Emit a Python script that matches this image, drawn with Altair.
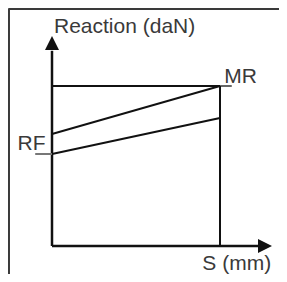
import altair as alt
import pandas as pd

# Schematic values (S in mm-units, Reaction in daN-units)
MR = 100.0
S_END = 10.0
upper_start, upper_end = 70.0, 100.0     # loading line
lower_start, lower_end = 57.5, 80.0      # unloading line (starts at RF)
y_axis_top = 122.0
x_axis_end = 12.4
arrow_up_at = 126.9
arrow_right_at = 12.68
mr_line_end = 10.7
rf_tick_start = -1.0
frame_top = 148.4
frame_left = -2.59

labels = ["Reaction (daN)", "MR", "RF", "S (mm)"]
label_s = [0.12, 10.25, -2.05, 8.95]
label_r = [133.1, 101.9, 60.0, -15.2]

X_DOM = [(8 - 52) / 16.8, (279 - 52) / 16.8]
Y_DOM = [-17.5, 148.75]

xs = alt.Scale(domain=X_DOM, nice=False, zero=False)
ys = alt.Scale(domain=Y_DOM, nice=False, zero=False)

segs = pd.DataFrame([
    # frame
    dict(x=frame_left, y=frame_top, x2=X_DOM[1], y2=frame_top, c="#3a3a3a", w=3),
    dict(x=frame_left, y=frame_top, x2=frame_left, y2=Y_DOM[0], c="#3a3a3a", w=3),
    # axes
    dict(x=0, y=0, x2=0, y2=y_axis_top, c="#111111", w=2.5),
    dict(x=0, y=0, x2=x_axis_end, y2=0, c="#111111", w=2.5),
    # MR level
    dict(x=0, y=MR, x2=S_END, y2=MR, c="#111111", w=2),
    dict(x=S_END, y=MR, x2=mr_line_end, y2=MR, c="#666666", w=2),
    # hysteresis lines
    dict(x=0, y=upper_start, x2=S_END, y2=upper_end, c="#111111", w=2),
    dict(x=0, y=lower_start, x2=S_END, y2=lower_end, c="#111111", w=2),
    dict(x=S_END, y=0, x2=S_END, y2=MR, c="#111111", w=2),
    # RF tick
    dict(x=rf_tick_start, y=lower_start, x2=0, y2=lower_start, c="#777777", w=2),
])

rules = alt.Chart(segs).mark_rule(clip=False).encode(
    x=alt.X("x:Q", scale=xs, axis=None),
    y=alt.Y("y:Q", scale=ys, axis=None),
    x2="x2:Q",
    y2="y2:Q",
    color=alt.Color("c:N", scale=None),
    strokeWidth=alt.StrokeWidth("w:Q", scale=None),
)

arrows = pd.DataFrame([
    dict(x=0, y=arrow_up_at, shape="M0,-1L1,1L-1,1Z"),
    dict(x=arrow_right_at, y=0, shape="M1,0L-1,1L-1,-1Z"),
])
heads = alt.Chart(arrows).mark_point(filled=True, size=196, color="#111111", opacity=1).encode(
    x=alt.X("x:Q", scale=xs, axis=None),
    y=alt.Y("y:Q", scale=ys, axis=None),
    shape=alt.Shape("shape:N", scale=None),
)

txt = pd.DataFrame({"t": labels, "x": label_s, "y": label_r})
texts = alt.Chart(txt).mark_text(
    align="left", baseline="alphabetic", font="Liberation Sans", fontSize=21, color="#3a3a3a"
).encode(
    x=alt.X("x:Q", scale=xs, axis=None),
    y=alt.Y("y:Q", scale=ys, axis=None),
    text="t:N",
)

chart = alt.layer(rules, heads, texts).properties(
    width=271, height=266, padding=0, autosize=alt.AutoSizeParams(type="none")
).configure_view(stroke=None)

chart.save("out.html", embed_options={"renderer": "svg", "actions": False})
